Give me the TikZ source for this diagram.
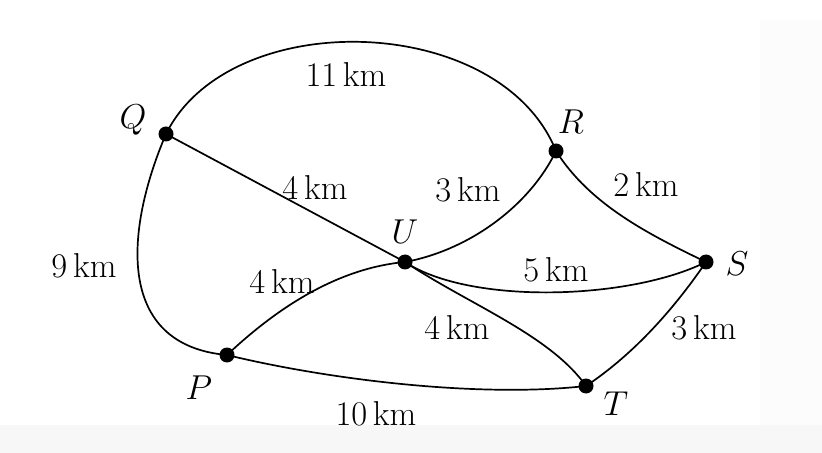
\documentclass[tikz,border=0pt]{standalone}
\begin{document}
\begin{tikzpicture}[x=0.5pt,y=-0.5pt,
  vtx/.style={circle,fill=black,inner sep=0pt,minimum size=7.5pt},
  edge/.style={line width=0.85pt},
  lbl/.style={font=\fontsize{17}{19}\selectfont,inner sep=1pt},
  vlab/.style={font=\fontsize{17}{19}\selectfont,inner sep=1pt}]
\useasboundingbox (0,0) rectangle (822,453);
\fill[white] (0,0) rectangle (822,453);
\fill[black!3] (0,425) rectangle (822,453);
\fill[black!1] (760,20) rectangle (822,425);
% vertices
\node[vtx] (Q) at (166,134) {};
\node[vtx] (R) at (556,151) {};
\node[vtx] (S) at (706,262) {};
\node[vtx] (U) at (405,262) {};
\node[vtx] (P) at (227,355) {};
\node[vtx] (T) at (586,386) {};
% vertex labels
\node[vlab] (lQ) at (133,120) {$Q$};
\node[vlab] (lR) at (571,122) {$R$};
\node[vlab] (lU) at (405,232) {$U$};
\node[vlab] (lS) at (737,264) {$S$};
\node[vlab] (lP) at (199,388) {$P$};
\node[vlab] (lT) at (616,404) {$T$};
% edges
\draw[edge] (Q.center) .. controls (230,5) and (500,12) .. (R.center);
\draw[edge] (Q.center) -- (U.center);
\draw[edge] (Q.center) .. controls (125,230) and (115,345) .. (P.center);
\draw[edge] (P.center) .. controls (280,305) and (340,268) .. (U.center);
\draw[edge] (U.center) .. controls (470,250) and (530,205) .. (R.center);
\draw[edge] (R.center) .. controls (590,205) and (650,235) .. (S.center);
\draw[edge] (U.center) .. controls (470,305) and (630,300) .. (S.center);
\draw[edge] (U.center) .. controls (470,305) and (550,335) .. (T.center);
\draw[edge] (S.center) .. controls (680,300) and (640,350) .. (T.center);
\draw[edge] (P.center) .. controls (330,380) and (480,398) .. (T.center);
% edge labels
\node[lbl] (e1) at (346,75) {$11\,\mathrm{km}$};
\node[lbl] (e2) at (315,188) {$4\,\mathrm{km}$};
\node[lbl] (e3) at (468,190) {$3\,\mathrm{km}$};
\node[lbl] (e4) at (646,185) {$2\,\mathrm{km}$};
\node[lbl] (e5) at (84,266) {$9\,\mathrm{km}$};
\node[lbl] (e6) at (282,282) {$4\,\mathrm{km}$};
\node[lbl] (e7) at (556,270) {$5\,\mathrm{km}$};
\node[lbl] (e8) at (457,328) {$4\,\mathrm{km}$};
\node[lbl] (e9) at (704,327) {$3\,\mathrm{km}$};
\node[lbl] (e10) at (376,413) {$10\,\mathrm{km}$};
\end{tikzpicture}
\end{document}
